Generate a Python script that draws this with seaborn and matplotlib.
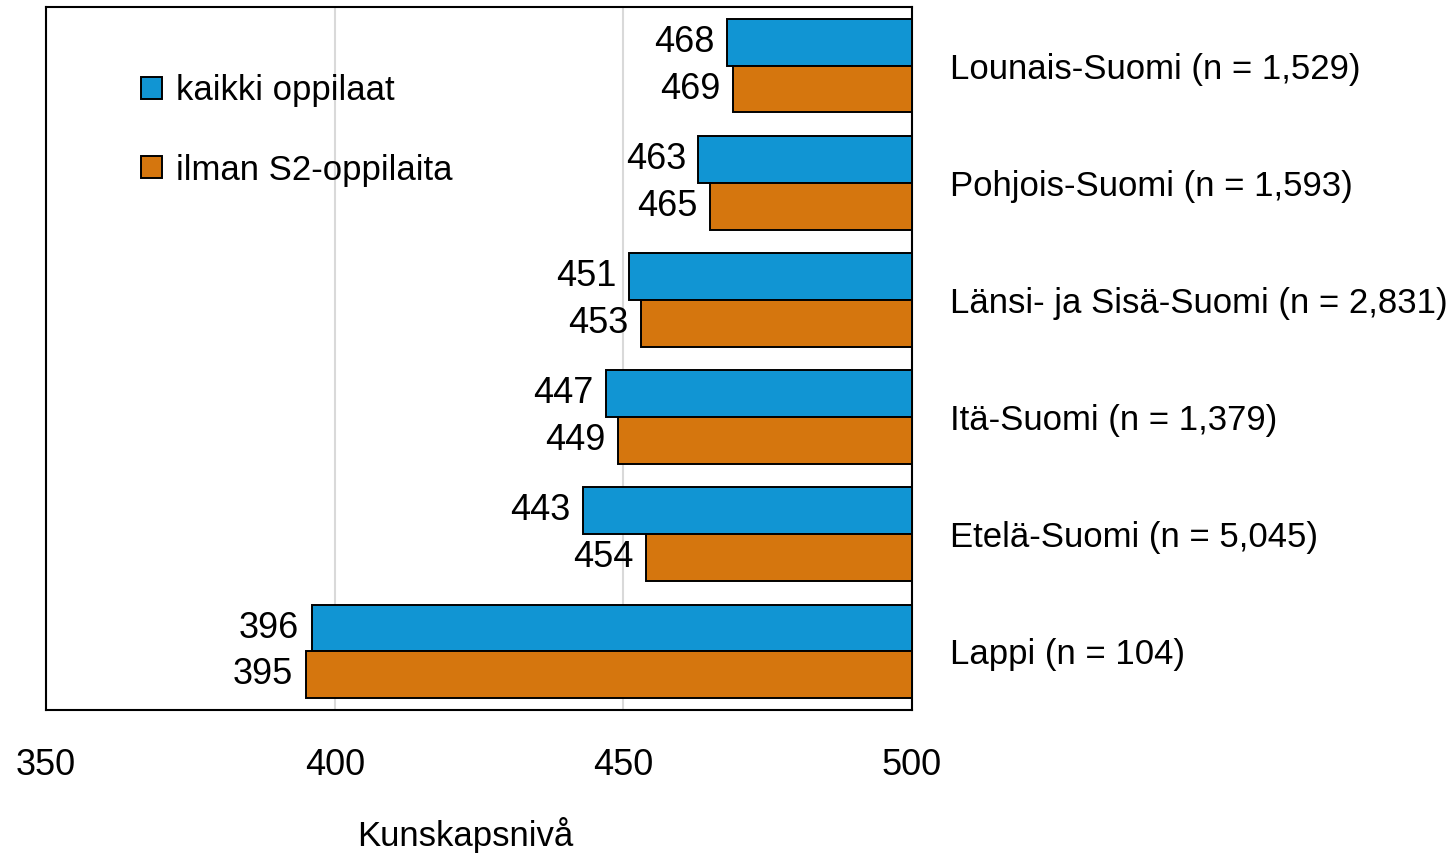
import numpy as np
import pandas as pd
import matplotlib
matplotlib.use("Agg")
import matplotlib.pyplot as plt
from matplotlib.ticker import FixedLocator, FixedFormatter
import seaborn as sns

regions = [
    "Lounais-Suomi (n = 1,529)",
    "Pohjois-Suomi (n = 1,593)",
    "Länsi- ja Sisä-Suomi (n = 2,831)",
    "Itä-Suomi (n = 1,379)",
    "Etelä-Suomi (n = 5,045)",
    "Lappi (n = 104)",
]
series_names = ["kaikki oppilaat", "ilman S2-oppilaita"]
all_students = [468, 463, 451, 447, 443, 396]
without_s2 = [469, 465, 453, 449, 454, 395]
tick_values = [350, 400, 450, 500]
base = 500

colors = ["#1195d3", "#d5760e"]

df = pd.DataFrame({
    "region": regions * 2,
    "series": [series_names[0]] * len(regions) + [series_names[1]] * len(regions),
    "score": all_students + without_s2,
})
# bars hang from the right edge at 500
df["offset"] = df["score"] - base

sns.set_theme(style="white")
plt.rcParams["font.family"] = ["Liberation Sans", "DejaVu Sans"]
plt.rcParams["text.color"] = "black"
plt.rcParams["xtick.color"] = "black"
plt.rcParams["ytick.color"] = "black"
plt.rcParams["axes.labelcolor"] = "black"

fig = plt.figure(figsize=(14.53, 8.6), dpi=100)
ax = fig.add_axes([0.0317, 0.1744, 0.596, 0.8174])

sns.barplot(data=df, y="region", x="offset", hue="series", orient="h",
            palette=colors, saturation=1, edgecolor="black", linewidth=1.4,
            width=0.8, order=regions, hue_order=series_names, ax=ax, zorder=3)

for cont, vals in zip(ax.containers, [all_students, without_s2]):
    ax.bar_label(cont, labels=[str(v) for v in vals], padding=9, fontsize=26)

ax.set_xlim(tick_values[0] - base, tick_values[-1] - base)
ax.set_ylim(len(regions) - 0.5, -0.5)
ax.xaxis.set_major_locator(FixedLocator([t - base for t in tick_values]))
ax.xaxis.set_major_formatter(FixedFormatter([str(t) for t in tick_values]))
ax.grid(axis="x", color="#d9d9d9", linewidth=1.5, zorder=0)
ax.set_axisbelow(True)

ax.yaxis.tick_right()
ax.tick_params(axis="y", length=0, pad=27, labelsize=25)
ax.tick_params(axis="x", length=0, pad=27, labelsize=26)
ax.set_ylabel("")
ax.set_xlabel("Kunskapsnivå", fontsize=25)
ax.xaxis.set_label_coords(0.484, -0.152)

for s in ax.spines.values():
    s.set_visible(True)
    s.set_color("black")
    s.set_linewidth(1.5)

leg = ax.legend(loc="upper left", bbox_to_anchor=(0.11, 0.905), frameon=False,
                fontsize=25, handlelength=0.6, handleheight=0.6,
                handletextpad=0.4, labelspacing=1.35, borderaxespad=0, borderpad=0)
for h in leg.legend_handles:
    h.set_edgecolor("black")
    h.set_linewidth(1.4)

fig.savefig("out.png", dpi=100)
